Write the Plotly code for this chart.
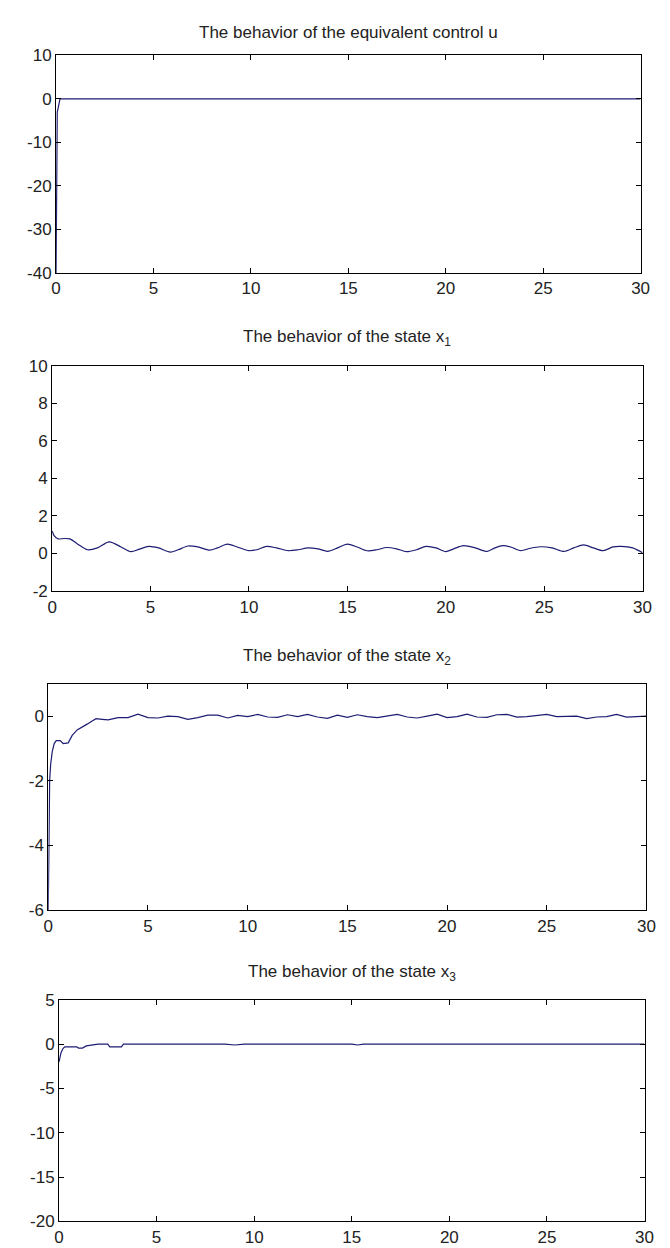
import plotly.graph_objects as go
from plotly.subplots import make_subplots

# ---------------- data ----------------
t_u = [0, 0.02, 0.04, 0.06, 0.1, 0.15, 0.2, 0.3, 8.0, 15.0, 22.0, 30]
u = [-40, -26, -12, -3, -2.2, -1, 0, 0, 0, 0, 0, 0]

t_x1 = [0, 0.1, 0.3, 0.6, 0.9, 1.3, 1.8, 2.3, 2.9, 3.5, 4.0, 4.4, 4.9, 5.4, 6.0, 6.4, 6.9,
        7.4, 8.0, 8.4, 8.9, 9.4, 10.0, 10.4, 10.9, 11.4, 12.0, 12.5, 13.0, 13.5, 14.0, 14.5,
        15.0, 15.5, 16.0, 16.5, 17.0, 17.5, 18.0, 18.5, 19.0, 19.5, 20.0, 20.4, 20.9, 21.5,
        22.1, 22.5, 22.9, 23.3, 23.8, 24.3, 24.8, 25.4, 26.0, 26.5, 27.0, 27.5, 28.0, 28.5,
        28.9, 29.5, 30.0]
x1 = [1.2, 0.95, 0.78, 0.8, 0.78, 0.5, 0.2, 0.3, 0.62, 0.35, 0.1, 0.22, 0.38, 0.3, 0.08, 0.2,
      0.4, 0.35, 0.18, 0.3, 0.5, 0.35, 0.15, 0.2, 0.38, 0.3, 0.15, 0.2, 0.3, 0.25, 0.12, 0.3,
      0.5, 0.35, 0.15, 0.2, 0.32, 0.25, 0.1, 0.2, 0.38, 0.3, 0.1, 0.25, 0.42, 0.3, 0.11, 0.3,
      0.42, 0.35, 0.15, 0.28, 0.36, 0.3, 0.11, 0.3, 0.46, 0.3, 0.15, 0.35, 0.38, 0.3, 0.04]

t_x2 = [0, 0.02, 0.04, 0.07, 0.12, 0.2, 0.3, 0.4, 0.6, 0.75, 1.0, 1.2, 1.45, 1.7, 1.95, 2.2,
        2.4, 2.7, 3.0, 3.5, 4.0, 4.5, 5.0, 5.5, 6.0, 6.5, 7.0, 7.5, 8.0, 8.5, 9.0, 9.5, 10.0,
        10.5, 11.0, 11.5, 12.0, 12.5, 13.0, 13.5, 14.0, 14.5, 15.0, 15.5, 16.0, 16.5, 17.0,
        17.5, 18.0, 18.5, 19.0, 19.5, 20.0, 20.5, 21.0, 21.5, 22.0, 22.5, 23.0, 23.5, 24.0,
        24.5, 25.0, 25.5, 26.0, 26.5, 27.0, 27.5, 28.0, 28.5, 29.0, 29.5, 30.0]
x2 = [-6, -4.5, -3, -2, -1.5, -1.1, -0.85, -0.76, -0.76, -0.85, -0.83, -0.6, -0.43, -0.35,
      -0.25, -0.15, -0.08, -0.1, -0.12, -0.05, -0.05, 0.06, -0.05, -0.06, 0.0, -0.02, -0.1,
      -0.05, 0.03, 0.03, -0.06, 0.02, -0.02, 0.05, -0.03, -0.04, 0.04, -0.02, 0.05, -0.03,
      -0.07, 0.03, -0.04, 0.04, -0.02, -0.05, 0.0, 0.05, -0.03, -0.06, 0.0, 0.06, -0.05,
      -0.02, 0.06, -0.03, -0.04, 0.04, 0.05, -0.03, -0.02, 0.02, 0.05, -0.02, -0.02, 0.0,
      -0.08, -0.03, -0.02, 0.05, -0.03, -0.02, 0.0]

t_x3 = [0, 0.05, 0.1, 0.2, 0.3, 0.6, 0.9, 1.0, 1.2, 1.4, 1.8, 2.0, 2.5, 2.6, 3.2, 3.3,
        8.5, 9.0, 9.5, 15.0, 15.3, 15.6, 30.0]
x3 = [-2.0, -1.5, -1.0, -0.5, -0.3, -0.3, -0.3, -0.45, -0.45, -0.2, -0.05, 0.0, 0.0, -0.3,
      -0.3, 0.0, 0.0, -0.1, 0.0, 0.0, -0.1, 0.0, 0.0]

titles = ["The behavior of the equivalent control u",
          "The behavior of the state x<sub>1</sub>",
          "The behavior of the state x<sub>2</sub>",
          "The behavior of the state x<sub>3</sub>"]
x_ticks = [0, 5, 10, 15, 20, 25, 30]
y_ranges = [[-40, 10], [-2, 10], [-6, 1], [-20, 5]]
y_ticks = [[-40, -30, -20, -10, 0, 10],
           [-2, 0, 2, 4, 6, 8, 10],
           [-6, -4, -2, 0],
           [-20, -15, -10, -5, 0, 5]]

# ---------------- layout geometry (pixels) ----------------
W, H = 670, 1248
boxes = [(44, 641, 39, 260), (40, 643, 354, 583), (36, 647, 677, 907), (47, 645, 998, 1223)]
title_y = [16, 326, 650, 971]

LINE = "#1c1c72"
FONT = "Liberation Sans"

fig = make_subplots(rows=4, cols=1)
series = [(t_u, u), (t_x1, x1), (t_x2, x2), (t_x3, x3)]
shapes = ["linear", "spline", "linear", "linear"]
for i, (tx, yy) in enumerate(series):
    fig.add_trace(go.Scatter(x=tx, y=yy, mode="lines",
                             line=dict(color=LINE, width=1.2, shape=shapes[i],
                                       **({"smoothing": 0.8} if shapes[i] == "spline" else {})),
                             showlegend=False, hoverinfo="skip"),
                  row=i + 1, col=1)

axis_common = dict(showline=True, linecolor="black", linewidth=1, mirror="ticks",
                   ticks="inside", ticklen=5, tickcolor="black", tickwidth=1,
                   showgrid=False, zeroline=False,
                   tickfont=dict(family=FONT, size=17, color="#222222"))

for i in range(4):
    l, r, t, b = boxes[i]
    xa = "xaxis" if i == 0 else f"xaxis{i+1}"
    ya = "yaxis" if i == 0 else f"yaxis{i+1}"
    fig.layout[xa].update(domain=[l / W, r / W], range=[0, 30], tickvals=x_ticks,
                          ticktext=[str(v) for v in x_ticks], **axis_common)
    fig.layout[ya].update(domain=[1 - b / H, 1 - t / H], range=y_ranges[i],
                          tickvals=y_ticks[i], ticktext=[str(v) for v in y_ticks[i]],
                          **axis_common)
    fig.add_annotation(text=titles[i], x=(l + r) / 2 / W, y=1 - title_y[i] / H,
                       xref="paper", yref="paper", showarrow=False,
                       xanchor="center", yanchor="middle",
                       font=dict(family=FONT, size=17, color="#222222"))

fig.update_layout(width=W, height=H, margin=dict(l=0, r=0, t=0, b=0),
                  paper_bgcolor="white", plot_bgcolor="white")

fig.write_html("out.html")
